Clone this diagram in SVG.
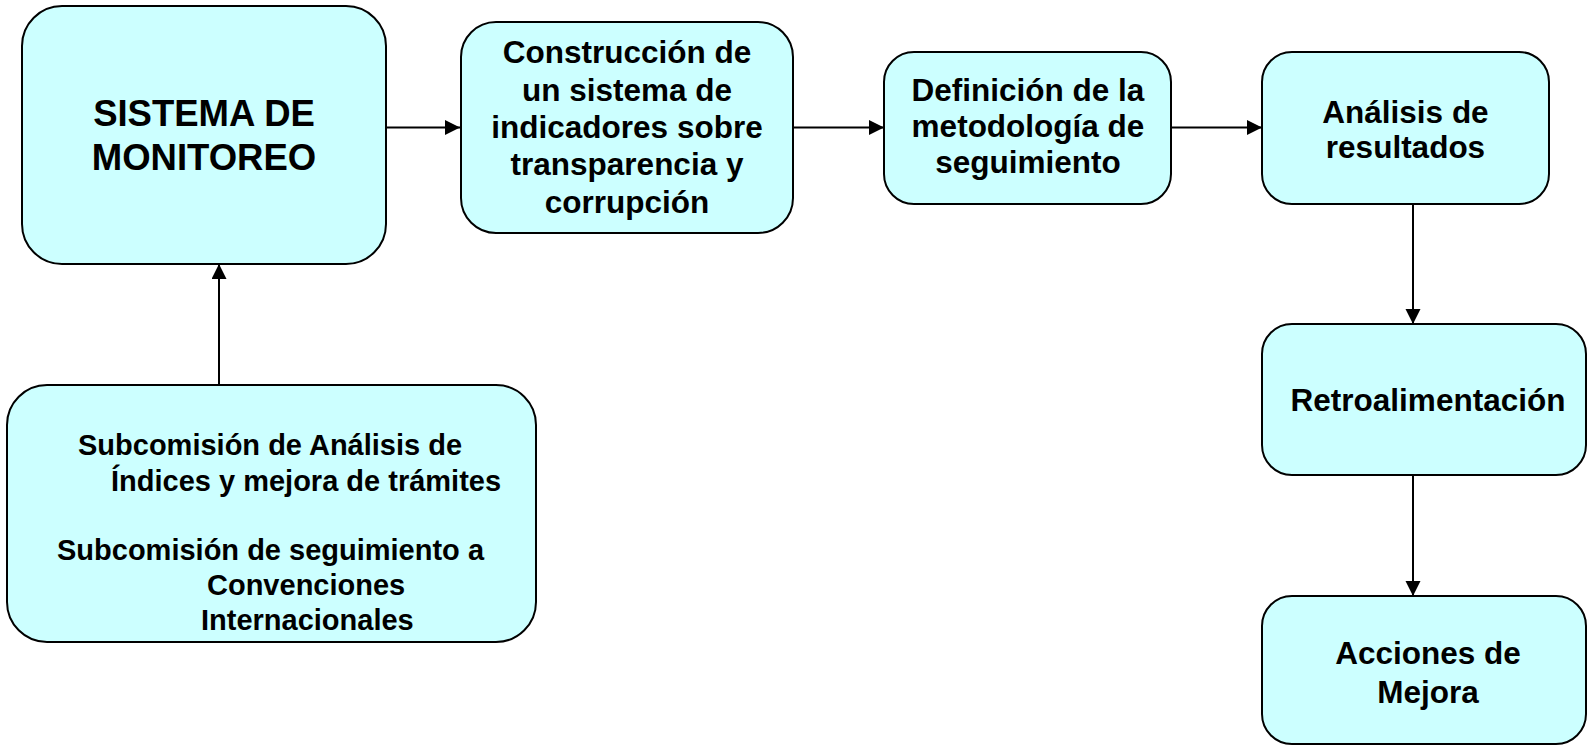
<svg xmlns="http://www.w3.org/2000/svg" width="1587" height="745" viewBox="0 0 1587 745">
<defs>
<style>
.box{fill:#CCFFFF;stroke:#000;stroke-width:2}
.t{font-family:"Liberation Sans",Arial,sans-serif;font-weight:bold;fill:#000}
.c{text-anchor:middle}
.conn line{stroke:#000;stroke-width:2;marker-end:url(#arr)}
</style>
<marker id="arr" markerUnits="userSpaceOnUse" markerWidth="16" markerHeight="16" refX="15" refY="7.5" orient="auto">
<path d="M0,0 L15,7.5 L0,15 z" fill="#000"/>
</marker>
</defs>
<rect width="1587" height="745" fill="#fff"/>
<g id="connectors" class="conn">
<line x1="219" y1="385" x2="219" y2="264"/>
<line x1="386" y1="127.5" x2="460" y2="127.5"/>
<line x1="793" y1="127.5" x2="884" y2="127.5"/>
<line x1="1171" y1="127.5" x2="1262" y2="127.5"/>
<line x1="1413" y1="203" x2="1413" y2="324"/>
<line x1="1413" y1="475" x2="1413" y2="596"/>
</g>
<g id="sistema">
<rect class="box" x="22" y="6" width="364" height="258" rx="40"/>
<text class="t c" font-size="36.5" x="204" y="126">SISTEMA DE</text>
<text class="t c" font-size="36.5" x="204" y="170">MONITOREO</text>
</g>
<g id="construccion">
<rect class="box" x="461" y="22" width="332" height="211" rx="35"/>
<text class="t c" font-size="31.5" x="627" y="63">Construcción de</text>
<text class="t c" font-size="31.5" x="627" y="101">un sistema de</text>
<text class="t c" font-size="31.5" x="627" y="138">indicadores sobre</text>
<text class="t c" font-size="31.5" x="627" y="175">transparencia y</text>
<text class="t c" font-size="31.5" x="627" y="213">corrupción</text>
</g>
<g id="definicion">
<rect class="box" x="884" y="52" width="287" height="152" rx="30"/>
<text class="t c" font-size="31.5" x="1028" y="100.5">Definición de la</text>
<text class="t c" font-size="31.5" x="1028" y="137">metodología de</text>
<text class="t c" font-size="31.5" x="1028" y="172.5">seguimiento</text>
</g>
<g id="analisis">
<rect class="box" x="1262" y="52" width="287" height="152" rx="30"/>
<text class="t c" font-size="31.5" x="1405.5" y="122.5">Análisis de</text>
<text class="t c" font-size="31.5" x="1405.5" y="158">resultados</text>
</g>
<g id="retro">
<rect class="box" x="1262" y="324" width="324" height="151" rx="30"/>
<text class="t c" font-size="31.5" x="1428" y="411">Retroalimentación</text>
</g>
<g id="acciones">
<rect class="box" x="1262" y="596" width="324" height="148" rx="30"/>
<text class="t c" font-size="31.5" x="1428" y="664">Acciones de</text>
<text class="t c" font-size="31.5" x="1428" y="703">Mejora</text>
</g>
<g id="subcomision">
<rect class="box" x="7" y="385" width="529" height="257" rx="40"/>
<text class="t" font-size="29" x="78" y="455">Subcomisión de Análisis de</text>
<text class="t" font-size="29" x="111" y="490.5">Índices y mejora de trámites</text>
<text class="t" font-size="29" x="57" y="560">Subcomisión de seguimiento a</text>
<text class="t" font-size="29" x="207" y="595">Convenciones</text>
<text class="t" font-size="29" x="201" y="630">Internacionales</text>
</g>
</svg>
